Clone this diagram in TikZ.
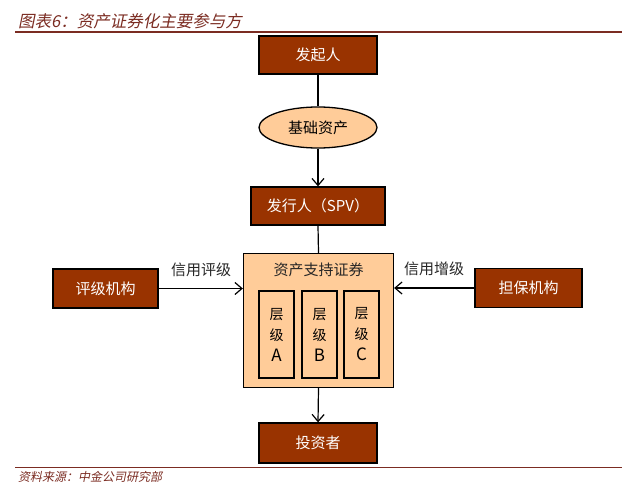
\documentclass[tikz,border=0pt]{standalone}
\usepackage{fontspec}
\newfontfamily\cjk{Noto Sans CJK SC}
\newfontfamily\cjkit[FakeSlant=0.2]{Noto Sans CJK SC}
\usetikzlibrary{arrows.meta,shapes.geometric}
\definecolor{brn}{HTML}{993300}
\definecolor{peach}{HTML}{FFCC99}
\definecolor{ttl}{HTML}{7B2C22}
\newcommand{\tierletter}[1]{{\fontsize{17}{21}\selectfont #1}}
\begin{document}
\begin{tikzpicture}[x=1pt,y=-1pt,
  darkbox/.style={draw=black,line width=1.3pt,fill=brn,text=white,font=\cjk\fontsize{15}{18}\selectfont,inner sep=0pt},
  lightbox/.style={draw=black,line width=1.3pt,fill=peach,inner sep=0pt},
  tier/.style={lightbox,minimum width=35pt,minimum height=87pt,align=center,font=\cjk\fontsize{14}{21}\selectfont},
  conn/.style={line width=1.2pt,draw=black},
  arr/.style={conn,-{Straight Barb[length=7pt,width=12pt,line width=1.2pt]}},
  lab/.style={font=\cjk\fontsize{15}{18}\selectfont,text=black!85}]
\useasboundingbox (0,0) rectangle (640,492);
% title and rules
\node[anchor=west,text=ttl,font=\cjkit\fontsize{16.5}{19}\selectfont,inner sep=0pt] (title) at (18,21) {图表6：资产证券化主要参与方};
\coordinate (r1a) at (15,32); \coordinate (r1b) at (622,32);
\draw[ttl,line width=1.2pt] (r1a) -- (r1b);
\coordinate (r2a) at (15,467); \coordinate (r2b) at (622,467);
\draw[ttl,line width=1pt] (r2a) -- (r2b);
\node[anchor=west,text=ttl,font=\cjkit\fontsize{12}{14}\selectfont,inner sep=0pt] (src) at (18,477) {资料来源：中金公司研究部};
% nodes
\node[darkbox,minimum width=118pt,minimum height=38pt] (start) at (318,55) {发起人};
\node[ellipse,lightbox,minimum width=118pt,minimum height=41pt,font=\cjk\fontsize{15}{18}\selectfont] (asset) at (318,127.5) {基础资产};
\node[darkbox,minimum width=134pt,minimum height=38pt] (spv) at (318,206) {发行人（SPV）};
\node[lightbox,minimum width=150pt,minimum height=134pt] (abs) at (318.5,320.5) {};
\node[lab,inner sep=0pt] (abst) at (318.5,270) {资产支持证券};
\node[tier] (ta) at (276.5,334.5) {层\\级\\\tierletter{A}};
\node[tier] (tb) at (319.5,334.5) {层\\级\\\tierletter{B}};
\node[tier] (tc) at (361.5,334.5) {层\\级\\\tierletter{C}};
\node[darkbox,minimum width=105pt,minimum height=39pt] (rate) at (105.5,288.5) {评级机构};
\node[darkbox,minimum width=107pt,minimum height=39pt] (guar) at (528.5,288) {担保机构};
\node[darkbox,minimum width=118pt,minimum height=40pt] (inv) at (318,443) {投资者};
\node[lab] (l1) at (201,270) {信用评级};
\node[lab] (l2) at (434,269) {信用增级};
% connectors
\draw[conn] (start.south) -- (asset.north);
\draw[arr] (asset.south) -- (spv.north);
\draw[conn] (spv.south) -- (abs.north);
\draw[arr] (rate.east) -- (rate.east -| abs.west);
\draw[arr] (guar.west) -- (guar.west -| abs.east);
\draw[arr] (abs.south) -- (inv.north);
\end{tikzpicture}
\end{document}
